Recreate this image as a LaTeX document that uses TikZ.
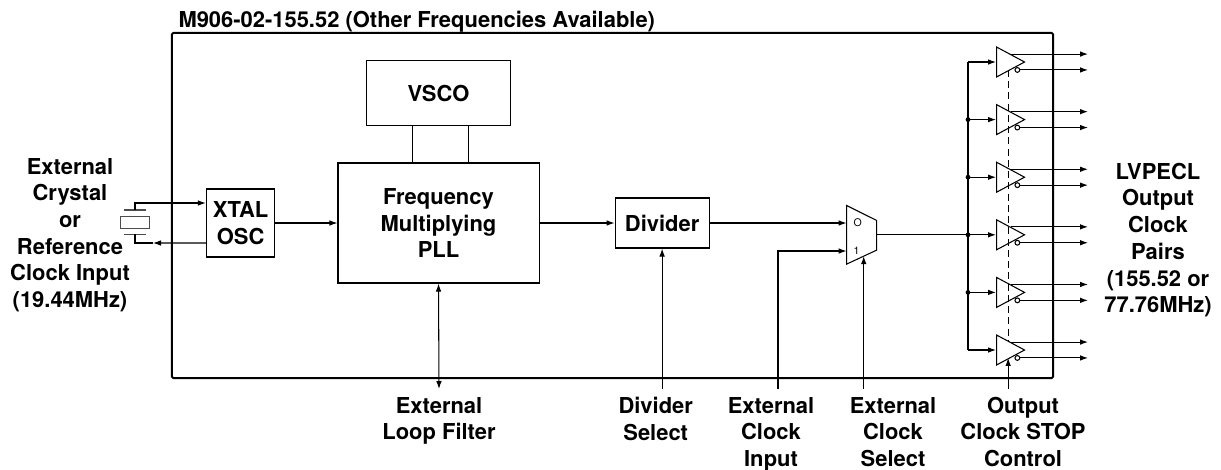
\documentclass[tikz,border=0pt]{standalone}
\usepackage{fontspec}
\setmainfont{TeX Gyre Heros}
\usetikzlibrary{positioning,shapes.geometric,arrows.meta,calc}

\begin{document}
\begin{tikzpicture}[x=0.025cm,y=-0.025cm,
	font=\fontsize{15.6}{19}\selectfont\bfseries,
	line width=.75pt,
	arr/.style={-{Latex[length=.2cm,width=.14cm]}},
	darr/.style={{Latex[length=.2cm,width=.14cm]}-{Latex[length=.2cm,width=.14cm]}},
	box/.style={draw,rectangle,inner sep=0,align=center},
	lbl/.style={inner sep=0,outer sep=.2cm,align=center},
	buf/.style={draw,isosceles triangle,isosceles triangle stretches,inner sep=0,
		minimum width=.75cm,minimum height=.7cm,anchor=lower side},
	bub/.style={draw,circle,inner sep=0,minimum size=.12cm,fill=white},
	dot/.style={fill,circle,inner sep=0,minimum size=.12cm}]
	\useasboundingbox (0,0) rectangle (1221,469);
	\node (chip) [draw,line width=1.4pt,rounded corners=1pt,inner sep=0,
		minimum width=22.025cm,minimum height=8.625cm] at (612.5,205.5) {};
	\node (title) [anchor=base west,inner sep=0] at (178,27.3) {M906-02-155.52 (Other Frequencies Available)};
	\node (pll) [box,minimum width=5.025cm,minimum height=3cm] at (438.5,223) {Frequency\\Multiplying\\PLL};
	\node (vsco) [box,minimum width=3.6cm,minimum height=1.625cm,above=.9cm of pll] {VSCO};
	\node (xosc) [box,minimum width=1.7125cm,minimum height=1.7cm,left=1.55cm of pll] {XTAL\\OSC};
	\node (div) [box,minimum width=2.35cm,minimum height=1.25cm,right=1.875cm of pll] {Divider};
	\node (mux) [inner sep=0,minimum width=.725cm,minimum height=1.44cm] at (861.6,234.8) {};
	\draw (mux.north west) -- ([yshift=-.375cm]mux.north east) -- ([yshift=.35cm]mux.south east) -- (mux.south west) -- cycle;
	\coordinate (min1) at ([yshift=-.405cm]mux.west);
	\coordinate (msel) at ($(mux.south west)!.57!([yshift=.35cm]mux.south east)$);
	\node (mux0) [font=\fontsize{7.5}{9}\selectfont,inner sep=0,anchor=west] at ([xshift=.16cm]mux.west |- div.east) {O};
	\node (mux1) [font=\fontsize{7.5}{9}\selectfont,inner sep=0,anchor=west] at ([xshift=.16cm]min1) {1};

	\node (xtalin) [align=center,inner sep=0] at (70,235) {External\\Crystal\\or\\Reference\\Clock Input\\(19.44MHz)};
	\node (lvpecl) [align=center,inner sep=0] at (1158,240) {LVPECL\\Output\\Clock\\Pairs\\(155.52 or\\77.76MHz)};
	\node (lf) [lbl,anchor=north] at (439,389) {External\\Loop Filter};
	\node (dsel) [lbl,anchor=north] at (655.7,389) {Divider\\Select};
	\node (xclk) [lbl,anchor=north] at (771,389) {External\\Clock\\Input};
	\node (xsel) [lbl,anchor=north] at (893,389) {External\\Clock\\Select};
	\node (stop) [lbl,anchor=north] at (1023,389) {Output\\Clock STOP\\Control};

	\node (xtal) [draw=black!70,inner sep=0,minimum width=.73cm,minimum height=.29cm] at (134.7,222.5) {};
	\draw[black!70] (124,210) -- (145.7,210);
	\draw[black!70] (124,234.3) -- (145.7,234.3);
	\coordinate (ptop) at (135,210);
	\coordinate (pbot) at (135,234.3);
	\coordinate (pmid) at (153,243);
	\draw[arr] (ptop) |- ([yshift=.5cm]xosc.west);
	\draw[arr] ([yshift=-.5cm]xosc.west) -- (pmid);
	\draw (pmid) -| (pbot);

	\draw[arr] (xosc) -- (pll);
	\draw ([xshift=-.66cm]vsco.south) -- ([xshift=-.66cm]pll.north);
	\draw ([xshift=.76cm]vsco.south) -- ([xshift=.76cm]pll.north);
	\draw[arr] (pll) -- (div);
	\draw[arr] (div) -- (mux.west |- div.east);
	\draw[darr] (lf.north) -- (pll.south);
	\draw[arr] (dsel.north -| div.south) -- (div.south);
	\draw[arr] ([xshift=.175cm]xclk.north) |- (min1);
	\draw[arr] (xsel.north -| msel) -- (msel);

	\node (buf1) [buf] at (996,62) {};
	\node (buf2) [buf] at (996,119.6) {};
	\node (buf3) [buf] at (996,177.2) {};
	\node (buf4) [buf] at (996,234.8) {};
	\node (buf5) [buf] at (996,292.4) {};
	\node (buf6) [buf] at (996,350) {};
	\draw[dashed,dash pattern=on 5pt off 3pt] ([xshift=-.07cm]buf1.right side) -- ([xshift=-.07cm]buf6.left side);
	\node (bub1) [bub] at ([xshift=.16cm]buf1.right side) {};
	\node (bub2) [bub] at ([xshift=.16cm]buf2.right side) {};
	\node (bub3) [bub] at ([xshift=.16cm]buf3.right side) {};
	\node (bub4) [bub] at ([xshift=.16cm]buf4.right side) {};
	\node (bub5) [bub] at ([xshift=.16cm]buf5.right side) {};
	\node (bub6) [bub] at ([xshift=.16cm]buf6.right side) {};

	\coordinate (bus) at (968,234.8);
	\coordinate (oend) at (1088,0);
	\draw (bus |- buf1.lower side) -- (bus |- buf6.lower side);
	\draw[arr] (mux.east) -- (buf4.lower side);
	\draw[arr] (bus |- buf1.lower side) -- (buf1.lower side);
	\draw[arr] (bus |- buf2.lower side) -- (buf2.lower side);
	\draw[arr] (bus |- buf3.lower side) -- (buf3.lower side);
	\draw[arr] (bus |- buf5.lower side) -- (buf5.lower side);
	\draw[arr] (bus |- buf6.lower side) -- (buf6.lower side);
	\node (d2) [dot] at (bus |- buf2.lower side) {};
	\node (d3) [dot] at (bus |- buf3.lower side) {};
	\node (d4) [dot] at (bus |- buf4.lower side) {};
	\node (d5) [dot] at (bus |- buf5.lower side) {};
	\draw[arr] (buf1.left side) -- (buf1.left side -| oend);
	\draw[arr] (bub1.east) -- (bub1.east -| oend);
	\draw[arr] (buf2.left side) -- (buf2.left side -| oend);
	\draw[arr] (bub2.east) -- (bub2.east -| oend);
	\draw[arr] (buf3.left side) -- (buf3.left side -| oend);
	\draw[arr] (bub3.east) -- (bub3.east -| oend);
	\draw[arr] (buf4.left side) -- (buf4.left side -| oend);
	\draw[arr] (bub4.east) -- (bub4.east -| oend);
	\draw[arr] (buf5.left side) -- (buf5.left side -| oend);
	\draw[arr] (bub5.east) -- (bub5.east -| oend);
	\draw[arr] (buf6.left side) -- (buf6.left side -| oend);
	\draw[arr] (bub6.east) -- (bub6.east -| oend);
	\draw[arr] ([xshift=-.07cm]stop.north -| buf6.right side) -- ([xshift=-.07cm]buf6.right side);
\end{tikzpicture}
\end{document}
